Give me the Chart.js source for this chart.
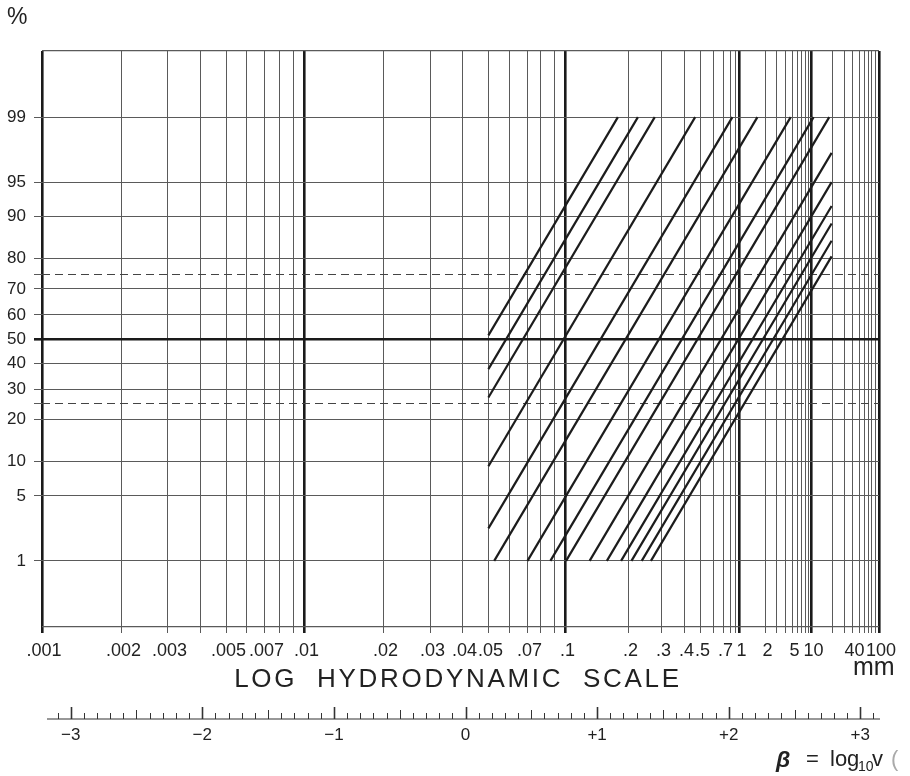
<!DOCTYPE html>
<html><head><meta charset="utf-8">
<script src="https://cdn.jsdelivr.net/npm/chart.js@4/dist/chart.umd.min.js"></script>
<style>html,body{margin:0;padding:0;background:#fff}canvas{display:block}</style>
</head><body>
<canvas id="c" width="910" height="776"></canvas>
<script>
// ---------- data ----------
// grain-size grid lines (mm) and their position on the beta = log10 v scale
const sizeTickMm = [0.001,0.002,0.003,0.004,0.005,0.006,0.007,0.008,0.009,
  0.01,0.02,0.03,0.04,0.05,0.06,0.07,0.08,0.09,
  0.1,0.2,0.3,0.4,0.5,0.6,0.7,0.8,0.9,
  1,2,3,4,5,6,7,8,9,
  10,20,30,40,50,60,70,80,90,100];
const sizeTickBeta = [-3.218,-2.614,-2.264,-2.014,-1.816,-1.664,-1.527,-1.413,-1.307,
  -1.223,-0.623,-0.266,-0.023,0.175,0.334,0.471,0.570,0.676,
  0.760,1.239,1.489,1.664,1.786,1.885,1.960,2.017,2.055,
  2.082,2.280,2.363,2.432,2.485,2.523,2.553,2.584,2.606,
  2.629,2.789,2.880,2.941,2.994,3.032,3.062,3.085,3.116,3.142];
const sizeTickLabel = ['.001','.002','.003','','.005','','.007','','',
  '.01','.02','.03','.04','.05','','.07','','',
  '.1','.2','.3','.4','.5','','.7','','',
  '1','2','','','5','','','','',
  '10','','','40','','','','','','100'];
const heavySizeMm = [0.001,0.01,0.1,1,10,100];
// probability grid (%)
const pctGrid = [1,5,10,20,30,40,50,60,70,80,90,95,99];
const pctDashed = [25,75];
// beta scale labels
const betaLabels = [-3,-2,-1,0,1,2,3];
// straight lines: start/end points (beta, cumulative %)
const lineStartBeta = [0.174,0.174,0.174,0.174,0.174,0.218,0.471,0.645,0.764,0.943,1.074,1.182,1.261,1.339,1.409];
const lineStartPct  = [51.5,37.6,27.0,9.1,2.35,1,1,1,1,1,1,1,1,1,1];
const lineEndBeta   = [1.158,1.310,1.438,1.745,2.028,2.218,2.471,2.645,2.764,2.782,2.782,2.782,2.782,2.782,2.782];
const lineEndPct    = [99,99,99,99,99,99,99,99,99,97.45,95.0,91.85,88.7,84.85,80.7];
// axis ranges
const xMin = -3.218, xMax = 3.142;   // beta units
const yMin = -3.02,  yMax = 3.02;    // standard normal deviate

// ---------- helpers ----------
function probit(p){
  const a=[-3.969683028665376e+01,2.209460984245205e+02,-2.759285104469687e+02,1.383577518672690e+02,-3.066479806614716e+01,2.506628277459239e+00];
  const b=[-5.447609879822406e+01,1.615858368580409e+02,-1.556989798598866e+02,6.680131188771972e+01,-1.328068155288572e+01];
  const c=[-7.784894002430293e-03,-3.223964580411365e-01,-2.400758277161838e+00,-2.549732539343734e+00,4.374664141464968e+00,2.938163982698783e+00];
  const d=[7.784695709041462e-03,3.224671290700398e-01,2.445134137142996e+00,3.754408661907416e+00];
  const pl=0.02425, ph=1-pl; let q,r;
  if(p<pl){q=Math.sqrt(-2*Math.log(p));return (((((c[0]*q+c[1])*q+c[2])*q+c[3])*q+c[4])*q+c[5])/((((d[0]*q+d[1])*q+d[2])*q+d[3])*q+1);}
  if(p<=ph){q=p-0.5;r=q*q;return (((((a[0]*r+a[1])*r+a[2])*r+a[3])*r+a[4])*r+a[5])*q/(((((b[0]*r+b[1])*r+b[2])*r+b[3])*r+b[4])*r+1);}
  q=Math.sqrt(-2*Math.log(1-p));return -(((((c[0]*q+c[1])*q+c[2])*q+c[3])*q+c[4])*q+c[5])/((((d[0]*q+d[1])*q+d[2])*q+d[3])*q+1);
}
const z = pct => probit(pct/100);
const isHeavyX = i => heavySizeMm.includes(sizeTickMm[i]);

const yPctAll = [...pctGrid, ...pctDashed].sort((a,b)=>a-b);
const yTicks = [{value:yMin, pct:null}, ...yPctAll.map(p=>({value:z(p), pct:p})), {value:yMax, pct:null}];

const datasets = lineStartBeta.map((_,i)=>({
  data:[{x:lineStartBeta[i], y:z(lineStartPct[i])},{x:lineEndBeta[i], y:z(lineEndPct[i])}],
  showLine:true, borderColor:'#1c1c1c', borderWidth:2.2, pointRadius:0, fill:false
}));

const FONT = "'Liberation Sans', Arial, sans-serif";
Chart.defaults.font.family = FONT;

const decor = {
  id:'decor',
  afterDraw(chart){
    const ctx = chart.ctx, xs = chart.scales.x2;
    ctx.save();
    ctx.fillStyle = '#222'; ctx.strokeStyle = '#333';
    // % sign
    ctx.font = `23px ${FONT}`; ctx.textAlign='left'; ctx.textBaseline='alphabetic';
    ctx.fillText('%', 7, 24);
    // axis title
    ctx.font = `26px ${FONT}`; ctx.textAlign='center';
    try{ ctx.letterSpacing = '2.7px'; }catch(e){}
    ctx.fillText('LOG  HYDRODYNAMIC  SCALE', 458, 687);
    try{ ctx.letterSpacing = '0px'; }catch(e){}
    ctx.font = `25px ${FONT}`; ctx.textAlign='left';
    ctx.fillText('mm', 853, 675);
    // beta axis line and ticks
    const y0 = xs.top;
    ctx.lineWidth = 1.2;
    ctx.beginPath();
    ctx.moveTo(xs.getPixelForValue(-3.18), y0);
    ctx.lineTo(xs.getPixelForValue(3.15), y0);
    ctx.stroke();
    for(let k=-31;k<=31;k++){
      const px = Math.round(xs.getPixelForValue(k/10))+0.5;
      const h = (k%10===0) ? 12 : (k%5===0 ? 9 : 6);
      ctx.lineWidth = (k%10===0) ? 1.6 : 1;
      ctx.beginPath(); ctx.moveTo(px, y0); ctx.lineTo(px, y0-h); ctx.stroke();
    }
    // beta = log10 v
    ctx.textAlign='left';
    ctx.font = `italic bold 23px ${FONT}`;
    ctx.fillText('β', 776, 767);
    ctx.font = `22px ${FONT}`;
    ctx.fillText('=', 806, 766);
    ctx.fillText('log', 830, 766);
    ctx.font = `14px ${FONT}`;
    ctx.fillText('10', 858, 771);
    ctx.font = `22px ${FONT}`;
    ctx.fillText('v', 872, 766);
    ctx.fillStyle = '#aaa';
    ctx.fillText('(', 891, 766);
    ctx.restore();
  }
};

new Chart(document.getElementById('c'), {
  type:'scatter',
  data:{datasets},
  plugins:[decor],
  options:{
    responsive:false, animation:false, devicePixelRatio:1,
    layout:{padding:{top:51, right:31, left:0, bottom:0}},
    plugins:{legend:{display:false}, tooltip:{enabled:false}},
    scales:{
      x:{
        type:'linear', position:'bottom', weight:0, min:xMin, max:xMax,
        afterBuildTicks:s=>{ s.ticks = sizeTickBeta.map(v=>({value:v})); },
        afterFit:s=>{ s.height = 92; },
        ticks:{autoSkip:false, maxRotation:0, minRotation:0, padding:7, labelOffset:2, color:'#222',
          font:{size:18}, callback:(v,i)=>sizeTickLabel[i]},
        grid:{
          color:c=>isHeavyX(c.index)?'#1a1a1a':'#5a5a5a',
          lineWidth:c=>isHeavyX(c.index)?2.6:1,
          tickColor:c=>isHeavyX(c.index)?'#1a1a1a':'#5a5a5a',
          tickWidth:c=>isHeavyX(c.index)?2.6:1,
          tickLength:6
        },
        border:{display:false}
      },
      x2:{
        type:'linear', axis:'x', position:'bottom', weight:1, min:xMin, max:xMax,
        afterBuildTicks:s=>{ s.ticks = betaLabels.map(v=>({value:v})); },
        afterFit:s=>{ s.height = 57; },
        ticks:{autoSkip:false, maxRotation:0, padding:6, color:'#222', font:{size:17},
          callback:(v,i)=>{ const b=betaLabels[i]; return b>0?('+'+b):(b<0?('\u2212'+Math.abs(b)):'0'); }},
        grid:{display:false, drawTicks:false},
        border:{display:false}
      },
      y:{
        type:'linear', position:'left', min:yMin, max:yMax,
        afterBuildTicks:s=>{ s.ticks = yTicks.map(t=>({value:t.value})); },
        afterFit:s=>{ s.width = 42; },
        ticks:{autoSkip:false, padding:8, color:'#222', font:{size:17},
          callback:(v,i)=>{ const p=yTicks[i].pct; return (p!==null && pctGrid.includes(p))?String(p):''; }},
        grid:{
          color:c=>{ const p=yTicks[c.index].pct; return p===50?'#1a1a1a':(pctDashed.includes(p)?'#444':'#5a5a5a'); },
          lineWidth:c=>{ const p=yTicks[c.index].pct; return p===50?2.6:(p===null?1.3:1); },
          tickColor:c=>{ const p=yTicks[c.index].pct; return p===null?'rgba(0,0,0,0)':(p===50?'#1a1a1a':'#5a5a5a'); },
          tickWidth:c=>{ const p=yTicks[c.index].pct; return p===50?2.6:1; },
          tickBorderDash:c=>{ const p=yTicks[c.index].pct; return pctDashed.includes(p)?[8,5]:[]; },
          tickLength:8
        },
        border:{display:false, dash:c=>{ const p=yTicks[c.index] && yTicks[c.index].pct; return pctDashed.includes(p)?[8,5]:[]; }}
      }
    }
  }
});
</script>
</body></html>
